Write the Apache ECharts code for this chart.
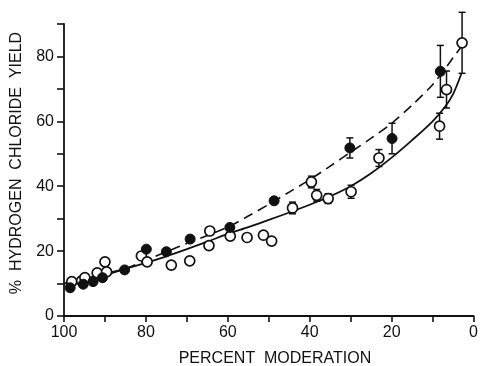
<!DOCTYPE html>
<html>
<head>
<meta charset="utf-8">
<script src="https://cdn.jsdelivr.net/npm/echarts@6/dist/echarts.min.js"></script>
<style>
  html, body { margin: 0; padding: 0; background: #fff; }
  #chart { width: 481px; height: 366px; }
</style>
</head>
<body>
<div id="chart"></div>
<script>
// Yield of HCl vs. percent moderation: two data sets with fitted curves.
const xTitle = 'PERCENT  MODERATION';
const yTitle = '%  HYDROGEN  CHLORIDE  YIELD';

// Open circles (x = % moderation, y = % yield, err = half-height of error bar, 0 = none)
const openX   = [98.1, 95.7, 94.9, 91.9, 90.0, 89.6, 81.1, 79.7, 73.8, 69.3, 64.4, 64.6, 59.4, 55.3, 51.3, 49.3, 44.2, 39.6, 38.3, 35.5, 29.9, 23.1, 8.3, 6.6, 2.8];
const openY   = [10.6, 10.8, 11.8, 13.3, 16.7, 13.6, 18.5, 16.7, 15.7, 17.0, 26.2, 21.7, 24.6, 24.2, 24.9, 23.1, 33.3, 41.3, 37.2, 36.2, 38.3, 48.7, 58.5, 69.8, 84.2];
const openErr = [0, 0, 0, 0, 0, 0, 0, 0, 0, 0, 0, 0, 0, 0, 0, 0, 1.8, 1.8, 1.8, 1.5, 2.0, 2.6, 4.0, 5.7, 9.4];

// Filled circles
const filledX   = [98.5, 95.3, 92.9, 90.6, 85.2, 79.9, 75.0, 69.2, 59.5, 48.7, 30.2, 19.9, 8.1];
const filledY   = [8.7, 9.8, 10.6, 11.8, 14.2, 20.6, 19.8, 23.7, 27.3, 35.5, 51.8, 54.7, 75.4];
const filledErr = [0, 0, 0, 0, 0, 0, 0, 0, 0, 0, 3.1, 4.7, 8.0];

// Fitted curves (dashed through filled points, solid through open points)
const curveX = [100, 95, 90, 85, 80, 75, 70, 65, 60, 55, 50, 45, 40, 35, 30, 25, 20, 15, 10, 7, 5, 3];
const dashY  = [10.0, 11.2, 12.6, 14.6, 17.2, 19.8, 22.4, 24.8, 27.4, 30.8, 34.4, 38.2, 42.0, 46.2, 50.5, 54.8, 59.4, 65.0, 71.3, 76.1, 79.6, 83.0];
const solidY = [10.0, 11.4, 13.0, 14.6, 16.4, 18.4, 20.6, 22.9, 25.3, 27.4, 29.6, 31.9, 34.3, 36.9, 40.0, 44.0, 48.8, 54.2, 60.0, 64.4, 68.4, 74.6];

const ink = '#111';
const FONT = 'Liberation Sans';

function pairs(xs, ys) { return xs.map((x, i) => [x, ys[i]]); }
function errRows(xs, ys, es) {
  const rows = [];
  xs.forEach((x, i) => { if (es[i] > 0) rows.push([x, ys[i] - es[i], ys[i] + es[i]]); });
  return rows;
}

function renderErr(params, api) {
  const x = api.value(0);
  const lo = api.coord([x, api.value(1)]);
  const hi = api.coord([x, api.value(2)]);
  const cap = 3.5;
  const st = { stroke: ink, lineWidth: 1.5 };
  return {
    type: 'group',
    children: [
      { type: 'line', shape: { x1: lo[0], y1: lo[1], x2: hi[0], y2: hi[1] }, style: st },
      { type: 'line', shape: { x1: lo[0] - cap, y1: lo[1], x2: lo[0] + cap, y2: lo[1] }, style: st },
      { type: 'line', shape: { x1: hi[0] - cap, y1: hi[1], x2: hi[0] + cap, y2: hi[1] }, style: st }
    ]
  };
}

const chart = echarts.init(document.getElementById('chart'), null, { renderer: 'canvas' });

const axisLine = { show: true, onZero: false, lineStyle: { color: ink, width: 1.8 } };
const labelBase = { color: ink, fontFamily: FONT, fontSize: 16 };

chart.setOption({
  animation: false,
  backgroundColor: '#fff',
  grid: { left: 64, right: 6, top: 24, bottom: 50, containLabel: false },
  xAxis: {
    type: 'value', min: 0, max: 100, interval: 10, inverse: true,
    axisLine: axisLine,
    splitLine: { show: false },
    axisTick: { show: true, length: 6, lineStyle: { color: ink, width: 1.6 } },
    axisLabel: Object.assign({}, labelBase, {
      margin: 9,
      formatter: v => (v % 20 === 0 ? String(v) : '')
    })
  },
  yAxis: {
    type: 'value', min: 0, max: 90, interval: 10, position: 'left',
    axisLine: axisLine,
    splitLine: { show: false },
    axisTick: { show: true, length: 7, lineStyle: { color: ink, width: 1.6 } },
    axisLabel: Object.assign({}, labelBase, {
      margin: 10,
      formatter: v => (v % 20 === 0 ? String(v) : '')
    })
  },
  graphic: [
    { type: 'text', x: 275, y: 359,
      style: { text: xTitle, fill: ink, font: '16px "' + FONT + '"', textAlign: 'center', textVerticalAlign: 'middle' } },
    { type: 'text', x: 17, y: 163, rotation: Math.PI / 2,
      style: { text: yTitle, fill: ink, font: '16px "' + FONT + '"', textAlign: 'center', textVerticalAlign: 'middle' } }
  ],
  series: [
    { type: 'line', data: pairs(curveX, dashY), smooth: 0.3, showSymbol: false, silent: true,
      lineStyle: { color: ink, width: 1.6, type: [10, 6] }, z: 2 },
    { type: 'line', data: pairs(curveX, solidY), smooth: 0.3, showSymbol: false, silent: true,
      lineStyle: { color: ink, width: 1.8 }, z: 2 },
    { type: 'custom', data: errRows(openX, openY, openErr), renderItem: renderErr, z: 3 },
    { type: 'custom', data: errRows(filledX, filledY, filledErr), renderItem: renderErr, z: 3 },
    { type: 'scatter', data: pairs(openX, openY), symbol: 'circle', symbolSize: 10,
      itemStyle: { color: '#fff', borderColor: ink, borderWidth: 1.7, opacity: 1 }, z: 4 },
    { type: 'scatter', data: pairs(filledX, filledY), symbol: 'circle', symbolSize: 10,
      itemStyle: { color: ink, borderColor: ink, borderWidth: 1, opacity: 1 }, z: 5 }
  ]
});
</script>
</body>
</html>
